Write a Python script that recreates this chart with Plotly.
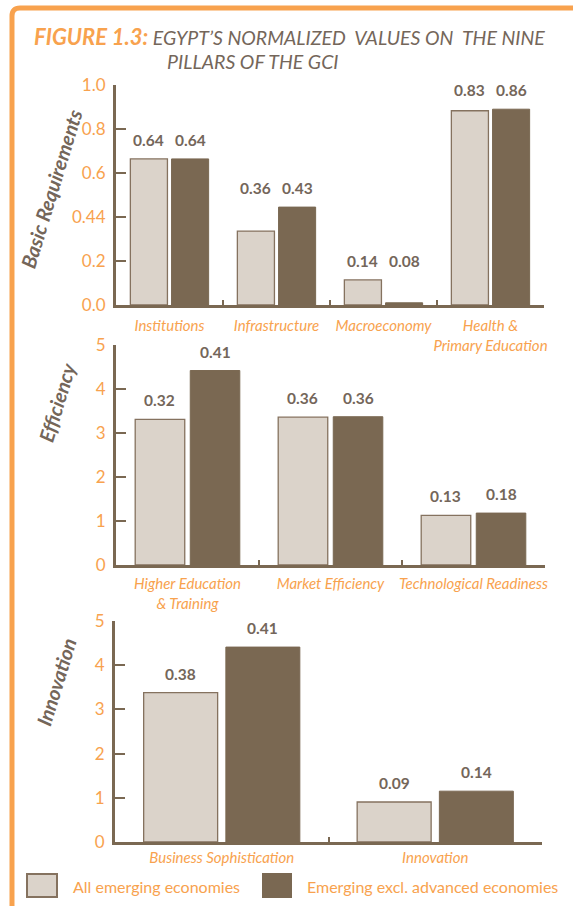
import plotly.graph_objects as go

# ---------------- data ----------------
series_names = ["All emerging economies", "Emerging excl. advanced economies"]

p1_categories = ["Institutions", "Infrastructure", "Macroeconomy", "Health &<br>Primary Education"]
p1_all = [0.664, 0.336, 0.114, 0.883]
p1_excl = [0.664, 0.445, 0.010, 0.890]
p1_lbl_all = ["0.64", "0.36", "0.14", "0.83"]
p1_lbl_excl = ["0.64", "0.43", "0.08", "0.86"]
p1_tickvals = [0, 0.2, 0.4, 0.6, 0.8, 1.0]
p1_ticktext = ["0.0", "0.2", "0.44", "0.6", "0.8", "1.0"]

p2_categories = ["Higher Education<br>& Training", "Market Efficiency", "Technological Readiness"]
p2_all = [3.31, 3.36, 1.13]
p2_excl = [4.42, 3.37, 1.18]
p2_lbl_all = ["0.32", "0.36", "0.13"]
p2_lbl_excl = ["0.41", "0.36", "0.18"]

p3_categories = ["Business Sophistication", "Innovation"]
p3_all = [3.38, 0.905]
p3_excl = [4.41, 1.15]
p3_lbl_all = ["0.38", "0.09"]
p3_lbl_excl = ["0.41", "0.14"]

p23_tickvals = [0, 1, 2, 3, 4, 5]

panel_titles = ["Basic Requirements", "Efficiency", "Innovation"]

# ---------------- style ----------------
W, H = 573, 906
ORANGE = "#F8A24E"
BROWN = "#7A6852"
LIGHT = "#DBD3CA"
EDGE = "#85725F"
TXT = "#74665A"
FONT = "Lato"
BARGAP = 0.23
GROUPGAP = 0.10


def px_x(x):
    return x / W


def px_y(y):
    return 1 - y / H


fig = go.Figure()

panels = [
    dict(cats=p1_categories, a=p1_all, e=p1_excl, la=p1_lbl_all, le=p1_lbl_excl,
         rng=[0, 1], tv=p1_tickvals, tt=p1_ticktext, xd=[116, 544], yd=[85, 305],
         same=True, standoff=5),
    dict(cats=p2_categories, a=p2_all, e=p2_excl, la=p2_lbl_all, le=p2_lbl_excl,
         rng=[0, 5], tv=p23_tickvals, tt=[str(v) for v in p23_tickvals], xd=[116, 545], yd=[345, 565],
         same=False, standoff=3),
    dict(cats=p3_categories, a=p3_all, e=p3_excl, la=p3_lbl_all, le=p3_lbl_excl,
         rng=[0, 5], tv=p23_tickvals, tt=[str(v) for v in p23_tickvals], xd=[115, 542], yd=[621, 842],
         same=False, standoff=0),
]

annotations = []
title_centers = [(51, 189), (57, 402), (56, 682)]

slot = (1 - BARGAP) / 2
offs = [-slot / 2, slot / 2]

for k, p in enumerate(panels):
    sfx = "" if k == 0 else str(k + 1)
    xa, ya = "x" + sfx, "y" + sfx
    fig.add_trace(go.Bar(x=p["cats"], y=p["a"], name=series_names[0], xaxis=xa, yaxis=ya,
                         marker=dict(color=LIGHT, line=dict(color=EDGE, width=1.3)),
                         showlegend=False, hoverinfo="skip"))
    fig.add_trace(go.Bar(x=p["cats"], y=p["e"], name=series_names[1], xaxis=xa, yaxis=ya,
                         marker=dict(color=BROWN, line=dict(color=BROWN, width=1)),
                         showlegend=False, hoverinfo="skip"))
    for i in range(len(p["cats"])):
        for j, (vals, lbls) in enumerate([(p["a"], p["la"]), (p["e"], p["le"])]):
            yv = max(p["a"][i], p["e"][i]) if p["same"] else vals[i]
            annotations.append(dict(
                x=i + offs[j], y=yv, xref=xa, yref=ya, text="<b>%s</b>" % lbls[i],
                showarrow=False, yanchor="bottom", yshift=8,
                font=dict(family=FONT, size=15.5, color=TXT, weight="bold")))
    axis_common = dict(showline=True, linecolor=BROWN, linewidth=3, zeroline=False,
                       showgrid=False, automargin=False, fixedrange=True)
    fig.layout["xaxis" + sfx] = dict(
        domain=[px_x(p["xd"][0]), px_x(p["xd"][1])], anchor=ya,
        type="category", ticks="inside", ticklen=5, tickwidth=2, tickcolor=BROWN,
        tickson="boundaries", ticklabelstandoff=p["standoff"], tickangle=0,
        tickfont=dict(family=FONT, size=15, color=ORANGE, style="italic"), **axis_common)
    fig.layout["yaxis" + sfx] = dict(
        domain=[px_y(p["yd"][1]), px_y(p["yd"][0])], anchor=xa, range=p["rng"],
        tickvals=p["tv"], ticktext=p["tt"], ticks="inside", ticklen=10, tickwidth=2,
        tickcolor=BROWN, ticklabelstandoff=4,
        tickfont=dict(family=FONT, size=17, color=ORANGE), **axis_common)
    cx, cy = title_centers[k]
    annotations.append(dict(x=px_x(cx), y=px_y(cy), xref="paper", yref="paper",
                            text="<b><i>%s</i></b>" % panel_titles[k], textangle=-73,
                            showarrow=False, xanchor="center", yanchor="middle",
                            font=dict(family=FONT, size=20, color=TXT, weight="bold")))

# title
annotations.append(dict(
    x=px_x(32), y=px_y(37), xref="paper", yref="paper", xanchor="left", yanchor="middle",
    showarrow=False,
    text="<i><b><span style='font-size:22px'>FIGURE 1.3:</span></b> <span style='color:%s'>EGYPT’S NORMALIZED  VALUES ON  THE NINE</span></i>" % TXT,
    font=dict(family=FONT, size=19.5, color=ORANGE)))
annotations.append(dict(
    x=px_x(165), y=px_y(61), xref="paper", yref="paper", xanchor="left", yanchor="middle",
    showarrow=False, text="<i>PILLARS OF THE GCI</i>",
    font=dict(family=FONT, size=19.5, color=TXT)))

# legend (manual)
shapes = []
legend_boxes = [(27, 57, LIGHT, EDGE), (263, 291, BROWN, BROWN)]
legend_text_x = [71, 305]
for (x0, x1, fc, lc), tx, nm in zip(legend_boxes, legend_text_x, series_names):
    shapes.append(dict(type="rect", xref="paper", yref="paper",
                       x0=px_x(x0), x1=px_x(x1), y0=px_y(897), y1=px_y(874),
                       fillcolor=fc, line=dict(color=lc, width=2)))
    annotations.append(dict(x=px_x(tx), y=px_y(886), xref="paper", yref="paper",
                            xanchor="left", yanchor="middle", showarrow=False, text=nm,
                            font=dict(family=FONT, size=16, color=ORANGE)))

# orange frame
bx, by, r = px_x(12), px_y(8), 8
shapes.append(dict(type="path", xref="paper", yref="paper",
                   path="M %f,%f L %f,%f Q %f,%f %f,%f L %f,%f" % (
                       bx, -0.01, bx, px_y(8 + r), bx, by, px_x(12 + r), by, 1.01, by),
                   line=dict(color=ORANGE, width=5)))

fig.update_layout(
    width=W, height=H, margin=dict(l=0, r=0, t=0, b=0, autoexpand=False),
    paper_bgcolor="white", plot_bgcolor="white",
    barmode="group", bargap=BARGAP, bargroupgap=GROUPGAP,
    annotations=annotations, shapes=shapes, showlegend=False,
    font=dict(family=FONT),
)

fig.write_html("out.html")
